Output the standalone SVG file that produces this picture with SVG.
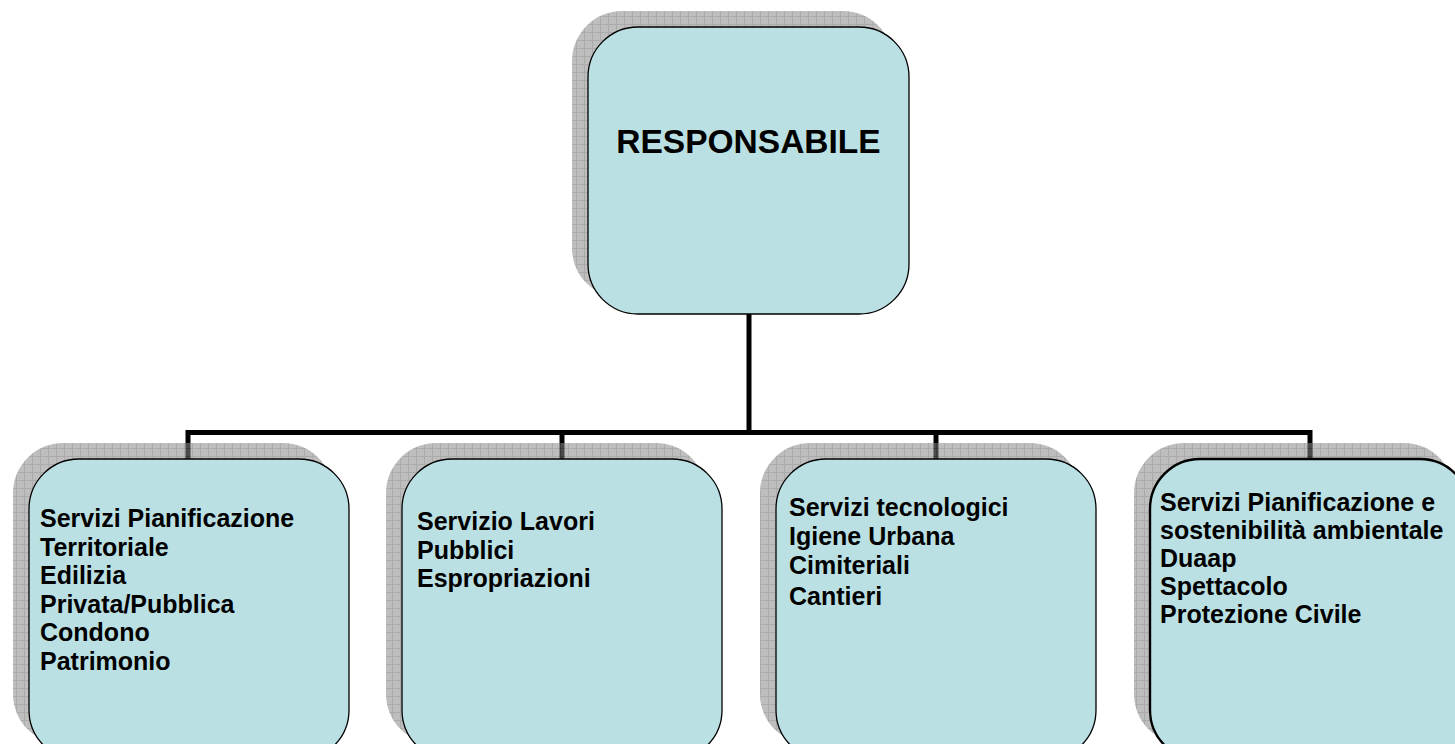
<svg xmlns="http://www.w3.org/2000/svg" width="1455" height="744" viewBox="0 0 1455 744">
<style>
.box{fill:#BBE0E3;stroke:#000;stroke-width:1.3}
.box.thick{stroke-width:2.4}
.shadow{fill:url(#grid);opacity:0.55}
.conn{fill:none;stroke:#000;stroke-width:5;stroke-linejoin:miter;stroke-linecap:butt}
text{font-family:"Liberation Sans",Arial,sans-serif;font-weight:bold;fill:#000}
.t{font-size:25px}
.title{font-size:33.5px}
</style>
<defs>
<pattern id="grid" patternUnits="userSpaceOnUse" width="8" height="8">
<rect width="8" height="8" fill="#888"/>
<path d="M0 0.5H8M0.5 0V8" stroke="#666" stroke-width="1" fill="none"/>
</pattern>
</defs>
<rect width="1455" height="744" fill="#fff"/>
<g id="connectors">
<path class="conn" d="M749 314V432.5"/>
<path class="conn" d="M188 459V432.5H1310V459"/>
<path class="conn" d="M562 432.5V459"/>
<path class="conn" d="M936 432.5V459"/>
</g>
<g id="responsabile">
<rect class="shadow" x="572" y="11" width="321" height="287" rx="50"/>
<rect class="box" x="588" y="27" width="321" height="287" rx="50"/>
<text class="title" x="748.5" y="153" text-anchor="middle">RESPONSABILE</text>
</g>
<g id="pianificazione-territoriale">
<rect class="shadow" x="13" y="443" width="320" height="301" rx="50"/>
<rect class="box" x="29" y="459" width="320" height="301" rx="50"/>
<text class="t" x="40" y="527">Servizi Pianificazione</text>
<text class="t" x="40" y="555.5">Territoriale</text>
<text class="t" x="40" y="584">Edilizia</text>
<text class="t" x="40" y="612.5">Privata/Pubblica</text>
<text class="t" x="40" y="641">Condono</text>
<text class="t" x="40" y="669.5">Patrimonio</text>
</g>
<g id="lavori-pubblici">
<rect class="shadow" x="386" y="443" width="320" height="301" rx="50"/>
<rect class="box" x="402" y="459" width="320" height="301" rx="50"/>
<text class="t" x="417" y="530">Servizio Lavori</text>
<text class="t" x="417" y="558.5">Pubblici</text>
<text class="t" x="417" y="587">Espropriazioni</text>
</g>
<g id="servizi-tecnologici">
<rect class="shadow" x="760" y="443" width="320" height="301" rx="50"/>
<rect class="box" x="776" y="459" width="320" height="301" rx="50"/>
<text class="t" x="789" y="516">Servizi tecnologici</text>
<text class="t" x="789" y="545">Igiene Urbana</text>
<text class="t" x="789" y="574">Cimiteriali</text>
<text class="t" x="789" y="605">Cantieri</text>
</g>
<g id="sostenibilita-ambientale">
<rect class="shadow" x="1134" y="443" width="320" height="301" rx="50"/>
<rect class="box thick" x="1150" y="459" width="320" height="301" rx="50"/>
<text class="t" x="1160" y="511">Servizi Pianificazione e</text>
<text class="t" x="1160" y="539">sostenibilità ambientale</text>
<text class="t" x="1160" y="567">Duaap</text>
<text class="t" x="1160" y="595">Spettacolo</text>
<text class="t" x="1160" y="623">Protezione Civile</text>
</g>
</svg>
